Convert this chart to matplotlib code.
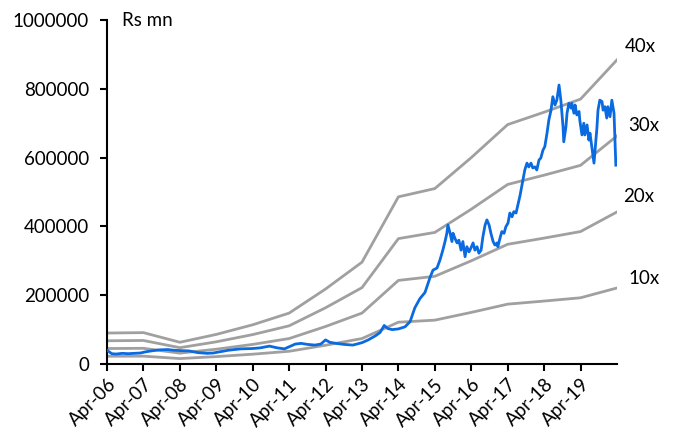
import matplotlib.pyplot as plt
from matplotlib.ticker import FuncFormatter

plt.rcParams['font.family'] = ['Lato', 'DejaVu Sans']

# earnings x10 at each April (band knots), Rs mn; x in decimal years
band_years = [2006.25, 2007.25, 2008.25, 2009.25, 2010.25, 2011.25, 2012.25, 2013.25,
              2014.25, 2015.25, 2016.25, 2017.25, 2018.25, 2019.25, 2020.25]
eps_x10 = [22500, 22800, 15800, 21500, 28500, 37000, 54500, 74000, 121500, 127500,
           150000, 174000, 183000, 192500, 221000]
multiples = [10, 20, 30, 40]

# market cap, Rs mn
mcap_years = [2006.25, 2006.38, 2006.50, 2006.67, 2006.83, 2007.00, 2007.17, 2007.29,
              2007.46, 2007.67, 2007.92, 2008.08, 2008.25, 2008.50, 2008.75, 2009.00,
              2009.17, 2009.37, 2009.58, 2009.92, 2010.25, 2010.46, 2010.71, 2010.92,
              2011.12, 2011.25, 2011.42, 2011.58, 2011.75, 2011.96, 2012.12, 2012.25,
              2012.37, 2012.54, 2012.75, 2013.00, 2013.25, 2013.42, 2013.62, 2013.75,
              2013.86, 2013.96, 2014.08, 2014.25, 2014.43, 2014.57, 2014.70, 2014.84,
              2014.98, 2015.12, 2015.20, 2015.31, 2015.39, 2015.47, 2015.53, 2015.58,
              2015.61, 2015.67, 2015.72, 2015.75, 2015.80, 2015.86, 2015.91, 2015.97,
              2016.02, 2016.08, 2016.13, 2016.19, 2016.24, 2016.30, 2016.35, 2016.41,
              2016.46, 2016.52, 2016.57, 2016.63, 2016.68, 2016.74, 2016.79, 2016.85,
              2016.90, 2016.96, 2016.98, 2017.04, 2017.09, 2017.15, 2017.20, 2017.26,
              2017.31, 2017.37, 2017.42, 2017.48, 2017.53, 2017.59, 2017.67, 2017.72,
              2017.78, 2017.83, 2017.89, 2017.94, 2018.00, 2018.05, 2018.11, 2018.16,
              2018.22, 2018.27, 2018.33, 2018.38, 2018.44, 2018.49, 2018.55, 2018.60,
              2018.66, 2018.71, 2018.74, 2018.77, 2018.79, 2018.85, 2018.88, 2018.93,
              2018.99, 2019.01, 2019.07, 2019.10, 2019.15, 2019.21, 2019.23, 2019.29,
              2019.34, 2019.37, 2019.43, 2019.48, 2019.51, 2019.56, 2019.62, 2019.65,
              2019.70, 2019.73, 2019.78, 2019.84, 2019.87, 2019.92, 2019.97, 2020.00,
              2020.06, 2020.11, 2020.17, 2020.19, 2020.22]
mcap = [40000, 30000, 29000, 31000, 30000, 31000, 32000, 35000,
        38000, 41000, 42000, 40000, 39000, 38000, 33000, 31000,
        32000, 36000, 40000, 44000, 45000, 47000, 52000, 47000,
        44000, 50000, 58000, 60000, 57000, 55000, 58000, 70000,
        63000, 60000, 57000, 55000, 62000, 70000, 82000, 92000,
        112000, 103000, 100000, 102000, 108000, 123000, 163000, 190000,
        208000, 252000, 273000, 279000, 302000, 331000, 356000, 380000,
        404000, 380000, 356000, 380000, 366000, 352000, 360000, 331000,
        356000, 312000, 341000, 326000, 337000, 352000, 331000, 341000,
        322000, 331000, 370000, 404000, 419000, 404000, 380000, 356000,
        346000, 352000, 341000, 366000, 385000, 380000, 399000, 410000,
        439000, 428000, 443000, 439000, 462000, 490000, 535000, 564000,
        584000, 573000, 584000, 570000, 573000, 564000, 593000, 599000,
        622000, 632000, 671000, 709000, 738000, 777000, 753000, 767000,
        811000, 767000, 729000, 690000, 646000, 690000, 729000, 758000,
        744000, 758000, 729000, 753000, 724000, 734000, 709000, 666000,
        700000, 666000, 695000, 651000, 671000, 632000, 584000, 622000,
        686000, 738000, 767000, 763000, 738000, 748000, 715000, 748000,
        719000, 767000, 729000, 671000, 578000]

tick_years = list(range(2006, 2020))

fig = plt.figure(figsize=(6.79, 4.41), dpi=100)
ax = fig.add_axes([0.1576, 0.1746, 0.751, 0.78])

label_off = {10: (11, 9), 20: (6, 15), 30: (11, 10), 40: (8, 13)}
for m in multiples:
    vals = [e / 10 * m for e in eps_x10]
    ax.plot(band_years, vals, color='#a0a0a0', lw=2, zorder=2)
    ax.annotate(f'{m}x', (band_years[-1], vals[-1]), xytext=label_off[m],
                textcoords='offset pixels', fontsize=13.5, ha='left', va='center')

ax.plot(mcap_years, mcap, color='#0a6ae0', lw=2, zorder=3)

ax.set_xlim(2006.25, 2020.25)
ax.set_ylim(0, 1000000)
ax.set_yticks(range(0, 1000001, 200000))
ax.yaxis.set_major_formatter(FuncFormatter(lambda v, p: f'{int(v)}'))
ax.set_xticks([y + 0.25 for y in tick_years])
ax.set_xticklabels([f'Apr-{y % 100:02d}' for y in tick_years], rotation=45,
                   ha='right', rotation_mode='anchor')

for s in ['top', 'right']:
    ax.spines[s].set_visible(False)
for s in ['left', 'bottom']:
    ax.spines[s].set_linewidth(1.5)
ax.tick_params(labelsize=13.5, length=5, width=1.5)
ax.tick_params(axis='y', pad=8)
ax.text(0.03, 1.0, 'Rs mn', transform=ax.transAxes, fontsize=13.5, va='center')

fig.savefig('out.png', dpi=100)
